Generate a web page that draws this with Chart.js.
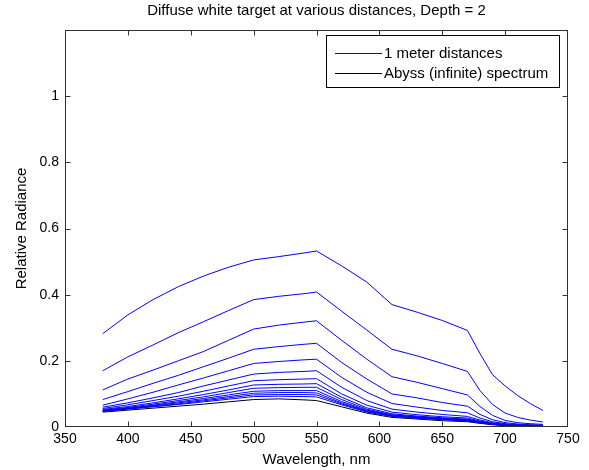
<!DOCTYPE html>
<html>
<head>
<meta charset="utf-8">
<script src="https://cdn.jsdelivr.net/npm/chart.js@4.4.1/dist/chart.umd.min.js"></script>
<style>
  html, body { margin: 0; padding: 0; background: #fff; }
  #wrap { width: 589px; height: 470px; position: relative; }
</style>
</head>
<body>
<div id="wrap"><canvas id="c" width="589" height="470"></canvas></div>
<script>
// ---- Data ----
const titleText = 'Diffuse white target at various distances, Depth = 2';
const xLabel = 'Wavelength, nm';
const yLabel = 'Relative Radiance';
const legendLabels = ['1 meter distances', 'Abyss (infinite) spectrum'];

const wavelengths = [380,400,420,440,460,480,500,520,540,550,570,590,610,630,650,670,680,690,700,710,720,730];

const dist1  = [.282,.339,.385,.424,.456,.483,.505,.515,.526,.532,.487,.438,.370,.347,.322,.292,.222,.158,.124,.095,.071,.050];
const dist2  = [.170,.212,.248,.285,.318,.352,.385,.395,.403,.408,.350,.293,.235,.215,.192,.168,.110,.068,.042,.029,.021,.015];
const dist3  = [.112,.145,.172,.200,.228,.262,.296,.308,.317,.321,.262,.205,.152,.135,.116,.097,.062,.035,.020,.013,.010,.008];
const dist4  = [.083,.107,.132,.156,.182,.208,.235,.243,.250,.253,.195,.145,.100,.088,.074,.063,.038,.022,.013,.009,.007,.006];
const dist5  = [.066,.085,.105,.127,.148,.170,.192,.198,.203,.205,.150,.105,.071,.060,.050,.043,.027,.016,.010,.007,.005,.004];
const dist6  = [.060,.073,.088,.104,.124,.142,.160,.165,.168,.170,.120,.080,.054,.045,.038,.032,.021,.013,.008,.006,.004,.003];
const dist7  = [.056,.067,.080,.093,.108,.124,.140,.143,.145,.146,.100,.066,.045,.037,.031,.027,.018,.011,.007,.005,.004,.003];
const dist8  = [.053,.062,.073,.085,.098,.112,.127,.129,.130,.131,.090,.058,.040,.033,.028,.024,.016,.010,.006,.005,.003,.003];
const dist9  = [.051,.059,.069,.080,.091,.104,.117,.119,.120,.120,.083,.054,.037,.031,.026,.022,.015,.009,.006,.004,.003,.002];
const dist10 = [.050,.057,.066,.076,.086,.097,.108,.110,.110,.110,.077,.051,.036,.030,.025,.021,.014,.009,.005,.004,.003,.002];
const dist11 = [.049,.056,.064,.073,.082,.092,.102,.104,.104,.103,.073,.049,.034,.028,.024,.020,.013,.008,.005,.004,.003,.002];
const dist12 = [.048,.055,.062,.070,.079,.088,.097,.098,.098,.097,.070,.047,.033,.027,.023,.019,.013,.008,.005,.003,.003,.002];
const dist13 = [.047,.054,.061,.068,.076,.084,.092,.093,.092,.091,.067,.045,.032,.026,.022,.018,.012,.008,.005,.003,.002,.002];
const abyss  = [.045,.051,.057,.063,.069,.076,.083,.085,.082,.080,.061,.042,.029,.024,.019,.016,.011,.007,.004,.003,.002,.002];

const xTicks = [350,400,450,500,550,600,650,700,750];
const yTicks = [0,0.2,0.4,0.6,0.8,1,1.2];

const blueSeries = [dist1,dist2,dist3,dist4,dist5,dist6,dist7,dist8,dist9,dist10,dist11,dist12,dist13];

// ---- Build chart ----
const FONT = '"Liberation Sans", Arial, Helvetica, sans-serif';
const AXIS_COLOR = '#303030';
const TEXT_SIZE = 15;
const TICK_SIZE = 14;

function toPoints(arr) { return arr.map((v, i) => ({x: wavelengths[i], y: v})); }

const datasets = blueSeries.map((s, i) => ({
  label: 'd' + (i + 1),
  data: toPoints(s),
  borderColor: '#0000ff',
  borderWidth: 1,
  pointRadius: 0,
  fill: false,
  tension: 0
}));
datasets.push({
  label: 'abyss',
  data: toPoints(abyss),
  borderColor: '#000000',
  borderWidth: 1,
  pointRadius: 0,
  fill: false,
  tension: 0
});

const matlabAxes = {
  id: 'matlabAxes',
  afterDraw(chart) {
    const {ctx, chartArea: a, scales} = chart;
    ctx.save();
    ctx.strokeStyle = AXIS_COLOR;
    ctx.lineWidth = 1;
    const L = Math.round(a.left) + 0.5, R = Math.round(a.right) - 0.5;
    const T = Math.round(a.top) + 0.5, B = Math.round(a.bottom) - 0.5;
    ctx.strokeRect(L, T, R - L, B - T);
    const tl = 5;
    ctx.beginPath();
    xTicks.forEach(v => {
      const px = Math.round(scales.x.getPixelForValue(v)) + 0.5;
      if (px <= L + 1 || px >= R - 1) return;
      ctx.moveTo(px, B); ctx.lineTo(px, B - tl);
      ctx.moveTo(px, T); ctx.lineTo(px, T + tl);
    });
    yTicks.forEach(v => {
      const py = Math.round(scales.y.getPixelForValue(v)) + 0.5;
      if (py <= T + 1 || py >= B - 1) return;
      ctx.moveTo(L, py); ctx.lineTo(L + tl, py);
      ctx.moveTo(R, py); ctx.lineTo(R - tl, py);
    });
    ctx.stroke();

    // title
    ctx.fillStyle = '#000';
    ctx.font = TEXT_SIZE + 'px ' + FONT;
    ctx.textAlign = 'center';
    ctx.textBaseline = 'middle';
    ctx.fillText(titleText, (a.left + a.right) / 2, 11);

    // legend
    const bx = 326.5, by = 35.5, bw = 233, bh = 52;
    ctx.fillStyle = '#fff';
    ctx.fillRect(bx, by, bw, bh);
    ctx.strokeStyle = '#000';
    ctx.strokeRect(bx, by, bw, bh);
    const rows = [{c: '#0000ff', y: 53.5}, {c: '#000000', y: 73.5}];
    rows.forEach((r, i) => {
      ctx.beginPath();
      ctx.strokeStyle = r.c;
      ctx.lineWidth = 1;
      ctx.moveTo(335, r.y); ctx.lineTo(382, r.y);
      ctx.stroke();
      ctx.fillStyle = '#000';
      ctx.textAlign = 'left';
      ctx.fillText(legendLabels[i], 384, r.y);
    });
    ctx.restore();
  }
};

new Chart(document.getElementById('c'), {
  type: 'line',
  data: { datasets },
  options: {
    responsive: false,
    animation: false,
    layout: { padding: { top: 30, right: 21, left: 0, bottom: 0 } },
    plugins: { legend: { display: false }, tooltip: { enabled: false }, title: { display: false } },
    scales: {
      x: {
        type: 'linear',
        min: 350, max: 750,
        afterFit: s => { s.height = 43; },
        afterBuildTicks: s => { s.ticks = xTicks.map(v => ({value: v})); },
        grid: { display: false, drawTicks: false },
        border: { display: false },
        ticks: { color: '#000', padding: 4, font: { family: FONT, size: TICK_SIZE }, maxRotation: 0,
                 callback: v => String(v) },
        title: { display: true, text: xLabel, color: '#000', font: { family: FONT, size: TEXT_SIZE }, padding: { top: 0, bottom: 1 } }
      },
      y: {
        type: 'linear',
        min: 0, max: 1.2,
        afterFit: s => { s.width = 65; },
        afterBuildTicks: s => { s.ticks = yTicks.map(v => ({value: v})); },
        grid: { display: false, drawTicks: false },
        border: { display: false },
        ticks: { color: '#000', padding: 6, font: { family: FONT, size: TICK_SIZE },
                 callback: v => (Math.abs(v - 1.2) < 1e-9 ? '' : String(+v.toFixed(1))) },
        title: { display: true, text: yLabel, color: '#000', font: { family: FONT, size: TEXT_SIZE }, padding: { top: 13, bottom: 0 } }
      }
    }
  },
  plugins: [matlabAxes]
});
</script>
</body>
</html>
